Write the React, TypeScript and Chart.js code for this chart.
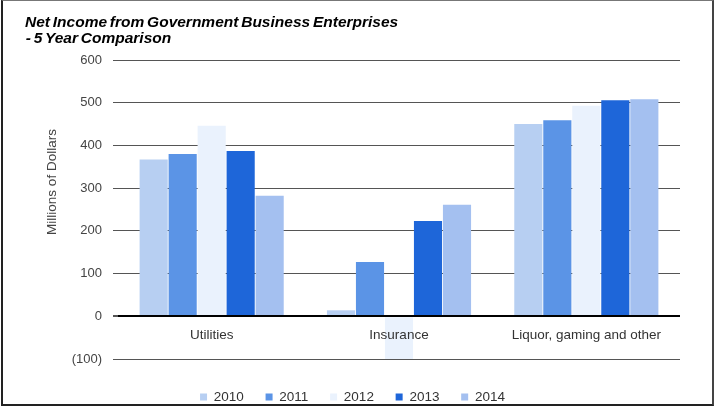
import React, { useEffect, useRef } from "react";
import { Chart, registerables } from "chart.js";

Chart.register(...registerables);

const categories = ["Utilities", "Insurance", "Liquor, gaming and other"];
const years = ["2010", "2011", "2012", "2013", "2014"];
const values2010 = [367, 14, 450];
const values2011 = [380, 127, 459];
const values2012 = [446, -103, 493];
const values2013 = [387, 223, 506];
const values2014 = [282, 261, 508];
const seriesColors = ["#b7cff2", "#5b94e6", "#eaf2fd", "#1e66d9", "#a4c0f0"];
const yMin = -100;
const yMax = 600;
const yStep = 100;
const titleLines = ["Net Income from Government Business Enterprises", "\u00a0- 5 Year Comparison"];
const yAxisTitle = "Millions of Dollars";

const FONT = "'Liberation Sans', Arial, Helvetica, sans-serif";

const yTitlePlugin = {
  id: "yTitleText",
  afterDraw(chart: any) {
    const ctx = chart.ctx;
    ctx.save();
    ctx.translate(49, 181);
    ctx.rotate(-Math.PI / 2);
    ctx.font = `13.5px ${FONT}`;
    ctx.fillStyle = "#444";
    ctx.textAlign = "center";
    ctx.textBaseline = "middle";
    ctx.fillText(yAxisTitle, 0, 0);
    ctx.restore();
  },
};

const zeroLinePlugin = {
  id: "zeroLine",
  afterDatasetsDraw(chart: any) {
    const ctx = chart.ctx;
    const area = chart.chartArea;
    const y = Math.round(chart.scales.y.getPixelForValue(0));
    ctx.save();
    ctx.strokeStyle = "#000";
    ctx.lineWidth = 2;
    ctx.beginPath();
    ctx.moveTo(area.left, y);
    ctx.lineTo(area.right, y);
    ctx.stroke();
    ctx.restore();
  },
};

// Keep the legend band compact and place its row low, near the bottom border
const legendPlacePlugin = {
  id: "legendPlace",
  beforeLayout(chart: any) {
    const lg = chart.legend;
    if (lg && !lg.__patched) {
      const orig = lg.fit;
      lg.fit = function () {
        orig.call(this);
        this.height = 45;
      };
      lg.__patched = true;
    }
  },
  afterLayout(chart: any) {
    const lg = chart.legend;
    if (lg) {
      lg.top += 9.5;
      lg.bottom += 9.5;
      lg.left += 11;
      lg.right += 11;
    }
  },
};

export default function App() {
  const ref = useRef<HTMLCanvasElement | null>(null);

  useEffect(() => {
    if (!ref.current) return;
    const allValues = [values2010, values2011, values2012, values2013, values2014];
    const chart = new Chart(ref.current, {
      type: "bar",
      data: {
        labels: categories,
        datasets: years.map((yr, i) => ({
          label: yr,
          data: allValues[i],
          backgroundColor: seriesColors[i],
          borderWidth: 0,
          categoryPercentage: 0.774,
          barPercentage: 0.97,
        })),
      },
      options: {
        responsive: false,
        animation: false,
        layout: { padding: { top: 59, right: 32, left: 0, bottom: 0 } },
        plugins: {
          title: { display: false },
          tooltip: { enabled: false },
          legend: {
            position: "bottom",
            labels: {
              boxWidth: 7,
              boxHeight: 7,
              padding: 21.75,
              color: "#333",
              font: { size: 13.5, family: FONT },
            },
          },
        },
        scales: {
          x: {
            position: { y: 0 } as any,
            grid: { display: false, drawTicks: false },
            border: { display: false },
            ticks: { z: 1, color: "#333", padding: 10.5, font: { size: 13.5, family: FONT } },
          },
          y: {
            min: yMin,
            max: yMax,
            ticks: {
              stepSize: yStep,
              padding: 11,
              color: "#444",
              font: { size: 13, family: FONT },
              callback: (v: any) => (v < 0 ? `(${Math.abs(v)})` : String(v)),
            },
            grid: {
              color: (c: any) => (c.tick && c.tick.value === 0 ? "#000" : "#555"),
              lineWidth: (c: any) => (c.tick && c.tick.value === 0 ? 2 : 1),
              tickLength: 5,
              tickColor: "#555",
            },
            border: { display: false },
            afterFit: (scale: any) => {
              scale.width = 115;
            },
          },
        },
      },
      plugins: [yTitlePlugin, zeroLinePlugin, legendPlacePlugin],
    });
    return () => chart.destroy();
  }, []);

  return (
    <div style={{ position: "fixed", left: 0, top: 0, width: 715, height: 408, background: "#fff" }}>
      <div
        style={{
          position: "absolute",
          left: 1,
          top: 0,
          width: 709,
          height: 403,
          borderTop: "1px solid #777",
          borderLeft: "2px solid #222",
          borderRight: "2px solid #444",
          borderBottom: "2px solid #222",
        }}
      >
        <canvas ref={ref} width={709} height={403} style={{ display: "block" }} />
      </div>
      <div
        style={{
          position: "absolute",
          left: 25,
          top: 13.5,
          fontFamily: FONT,
          fontWeight: "bold",
          fontStyle: "italic",
          fontSize: 15.5,
          lineHeight: "16px",
          wordSpacing: "-1.5px",
          color: "#000",
          whiteSpace: "pre",
        }}
      >
        {titleLines.map((t, i) => (
          <div key={i} style={i === 1 ? { marginLeft: -2 } : undefined}>
            {t}
          </div>
        ))}
      </div>
    </div>
  );
}
